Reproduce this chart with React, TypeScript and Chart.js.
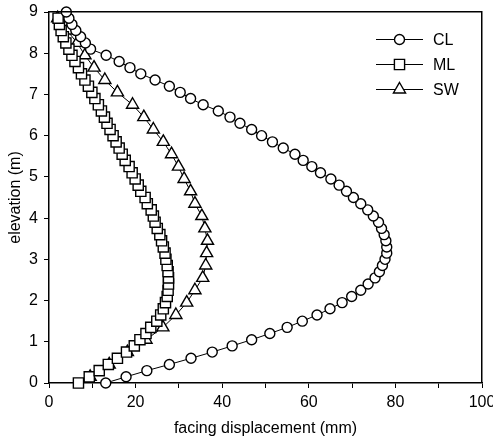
import React, { useEffect, useRef } from 'react';
import { Chart, registerables } from 'chart.js';

Chart.register(...registerables);

const FONT = '"Liberation Sans", Arial, Helvetica, sans-serif';

// ---- data ----
const SERIES_LABELS = ['CL', 'ML', 'SW'];

const CL_Y = [0, 0.15, 0.3, 0.45, 0.6, 0.75, 0.9, 1.05, 1.2, 1.35, 1.5, 1.65, 1.8, 1.95, 2.1, 2.25, 2.4, 2.55, 2.7, 2.85,
  3.0, 3.15, 3.3, 3.45, 3.6, 3.75, 3.9, 4.05, 4.2, 4.35, 4.5, 4.65, 4.8, 4.95, 5.1, 5.25, 5.4, 5.55, 5.7, 5.85,
  6.0, 6.15, 6.3, 6.45, 6.6, 6.75, 6.9, 7.05, 7.2, 7.35, 7.5, 7.65, 7.8, 7.95, 8.1, 8.25, 8.4, 8.55, 8.7, 8.85, 9.0];
const CL_X = [13.1, 17.8, 22.6, 27.8, 32.8, 37.7, 42.3, 46.8, 51.0, 55.0, 58.5, 61.9, 64.9, 67.7, 69.9, 72.0, 73.7, 75.3, 76.3, 77.0,
  77.6, 78.0, 78.0, 77.8, 77.4, 76.8, 76.1, 74.9, 73.6, 72.0, 70.3, 68.7, 67.0, 65.1, 62.7, 60.7, 58.7, 56.8, 54.1, 51.6,
  49.1, 46.8, 44.1, 41.8, 39.1, 35.6, 32.7, 30.3, 27.8, 24.5, 21.2, 18.7, 16.2, 13.2, 9.6, 8.4, 7.3, 6.2, 5.3, 4.6, 4.0];

const ML_Y = [0, 0.15, 0.3, 0.45, 0.6, 0.75, 0.9, 1.05, 1.2, 1.35, 1.5, 1.65, 1.8, 1.95, 2.1, 2.25, 2.4, 2.55, 2.7, 2.85,
  3.0, 3.15, 3.3, 3.45, 3.6, 3.75, 3.9, 4.05, 4.2, 4.35, 4.5, 4.65, 4.8, 4.95, 5.1, 5.25, 5.4, 5.55, 5.7, 5.85,
  6.0, 6.15, 6.3, 6.45, 6.6, 6.75, 6.9, 7.05, 7.2, 7.35, 7.5, 7.65, 7.8, 7.95, 8.1, 8.25, 8.4, 8.55, 8.7, 8.85];
const ML_X = [6.8, 9.3, 11.6, 13.7, 15.8, 17.9, 19.7, 21.0, 22.4, 23.5, 24.9, 25.8, 26.4, 26.9, 27.3, 27.5, 27.6, 27.6, 27.5, 27.3,
  27.0, 26.8, 26.4, 26.0, 25.6, 25.0, 24.5, 24.1, 23.6, 22.7, 22.2, 21.2, 20.6, 19.9, 19.2, 18.5, 17.6, 16.9, 16.2, 15.5,
  14.8, 14.1, 13.4, 12.8, 12.1, 11.4, 10.6, 9.9, 9.1, 8.3, 7.5, 6.8, 6.0, 5.3, 4.6, 3.9, 3.3, 2.8, 2.4, 2.1];

const SW_Y = [0.15, 0.45, 0.75, 1.05, 1.35, 1.65, 1.95, 2.25, 2.55, 2.85, 3.15, 3.45, 3.75, 4.05, 4.35,
  4.65, 4.95, 5.25, 5.55, 5.85, 6.15, 6.45, 6.75, 7.05, 7.35, 7.65, 7.95, 8.25, 8.55, 8.85];
const SW_X = [9.5, 13.9, 18.1, 22.4, 26.3, 29.3, 31.8, 33.7, 35.5, 36.2, 36.4, 36.6, 36.0, 35.3, 33.7,
  32.7, 31.2, 29.9, 28.3, 26.4, 24.1, 21.9, 19.3, 15.8, 12.9, 10.4, 8.3, 6.5, 4.2, 2.0];

const X_MIN = 0, X_MAX = 100, X_STEP = 10, X_LABEL_STEP = 20;
const Y_MIN = 0, Y_MAX = 9, Y_STEP = 1;
const X_TITLE = 'facing displacement (mm)';
const Y_TITLE = 'elevation (m)';

const toPoints = (xs: number[], ys: number[]) => xs.map((x, i) => ({ x, y: ys[i] }));

function drawMarker(ctx: CanvasRenderingContext2D, style: string, r: number, x: number, y: number) {
  ctx.beginPath();
  if (style === 'circle') {
    ctx.arc(x, y, r, 0, Math.PI * 2);
  } else if (style === 'rect') {
    const s = Math.SQRT1_2 * r;
    ctx.rect(x - s, y - s, 2 * s, 2 * s);
  } else {
    const a = (2 * Math.PI) / 3;
    ctx.moveTo(x, y - r);
    ctx.lineTo(x + Math.sin(a) * r, y - Math.cos(a) * r);
    ctx.lineTo(x + Math.sin(2 * a) * r, y - Math.cos(2 * a) * r);
    ctx.closePath();
  }
  ctx.fill();
  ctx.stroke();
}

// draws the top and right sides of the plot frame
const framePlugin = {
  id: 'plotFrame',
  afterDraw(chart: any) {
    const { ctx, chartArea } = chart;
    const l = Math.round(chartArea.left);
    const t = Math.round(chartArea.top);
    const r = Math.round(chartArea.right);
    const b = Math.round(chartArea.bottom);
    ctx.save();
    ctx.fillStyle = '#000000';
    ctx.fillRect(l - 1, t - 1, r - l + 1, 1.5);
    ctx.fillRect(r - 1, t - 1, 1.5, b - t + 1);
    ctx.restore();
  },
};

const legendPlugin = {
  id: 'lineLegend',
  afterDraw(chart: any) {
    const { ctx, chartArea } = chart;
    const lineX0 = chartArea.right - 106;
    const lineX1 = chartArea.right - 59;
    const textX = chartArea.right - 49;
    const rowY0 = chartArea.top + 27.5;
    const rowGap = 25;
    ctx.save();
    chart.data.datasets.forEach((ds: any, i: number) => {
      const y = rowY0 + i * rowGap;
      ctx.strokeStyle = '#000';
      ctx.lineWidth = 1;
      ctx.beginPath();
      ctx.moveTo(lineX0, y);
      ctx.lineTo(lineX1, y);
      ctx.stroke();
      ctx.fillStyle = '#fff';
      ctx.lineWidth = ds.pointBorderWidth;
      drawMarker(ctx, ds.pointStyle, ds.pointRadius, (lineX0 + lineX1) / 2, y);
      ctx.fillStyle = '#000';
      ctx.font = `16px ${FONT}`;
      ctx.textBaseline = 'middle';
      ctx.textAlign = 'left';
      ctx.fillText(ds.label, textX, y + 1);
    });
    ctx.restore();
  },
};

export default function App() {
  const ref = useRef<HTMLCanvasElement>(null);

  useEffect(() => {
    if (!ref.current) return;
    const common = {
      showLine: true,
      borderColor: '#000',
      borderWidth: 1,
      pointBackgroundColor: '#fff',
      pointBorderColor: '#000',
      pointBorderWidth: 1.4,
      clip: false as const,
    };
    const chart = new Chart(ref.current, {
      type: 'scatter',
      data: {
        datasets: [
          { ...common, label: SERIES_LABELS[0], data: toPoints(CL_X, CL_Y), pointStyle: 'circle', pointRadius: 5 },
          { ...common, label: SERIES_LABELS[1], data: toPoints(ML_X, ML_Y), pointStyle: 'rect', pointRadius: 7.2 },
          { ...common, label: SERIES_LABELS[2], data: toPoints(SW_X, SW_Y), pointStyle: 'triangle', pointRadius: 7 },
        ],
      },
      options: {
        responsive: false,
        animation: false,
        layout: { padding: { left: 6, top: 12, right: 11, bottom: 2 } },
        plugins: { legend: { display: false }, tooltip: { enabled: false } },
        scales: {
          x: {
            type: 'linear',
            position: 'bottom',
            min: X_MIN,
            max: X_MAX,
            grid: { display: true, drawOnChartArea: false, drawTicks: true, tickLength: 5, color: '#000', lineWidth: 1 },
            border: { display: true, color: '#000', width: 1.5 },
            ticks: {
              stepSize: X_STEP,
              autoSkip: false,
              maxRotation: 0,
              padding: 5,
              color: '#000',
              font: { family: FONT, size: 16 },
              callback: (v: any) => (Number(v) % X_LABEL_STEP === 0 ? String(v) : ''),
            },
            title: { display: true, text: X_TITLE, color: '#000', font: { family: FONT, size: 16 }, padding: 0 },
            afterFit: (s: any) => { s.height = 55; s.paddingLeft = 0; s.paddingRight = 0; },
          },
          y: {
            type: 'linear',
            position: 'left',
            min: Y_MIN,
            max: Y_MAX,
            grid: { display: true, drawOnChartArea: false, drawTicks: true, tickLength: 5, color: '#000', lineWidth: 1 },
            border: { display: true, color: '#000', width: 1.5 },
            ticks: { stepSize: Y_STEP, padding: 6, color: '#000', font: { family: FONT, size: 16 } },
            title: { display: true, text: Y_TITLE, color: '#000', font: { family: FONT, size: 16 }, padding: 0 },
            afterFit: (s: any) => { s.width = 43; s.paddingTop = 0; s.paddingBottom = 0; },
          },
        },
      },
      plugins: [framePlugin, legendPlugin],
    });
    return () => chart.destroy();
  }, []);

  return (
    <div style={{ position: 'fixed', left: 0, top: 0, width: 493, height: 440, background: '#fff' }}>
      <canvas ref={ref} width={493} height={440} />
    </div>
  );
}
